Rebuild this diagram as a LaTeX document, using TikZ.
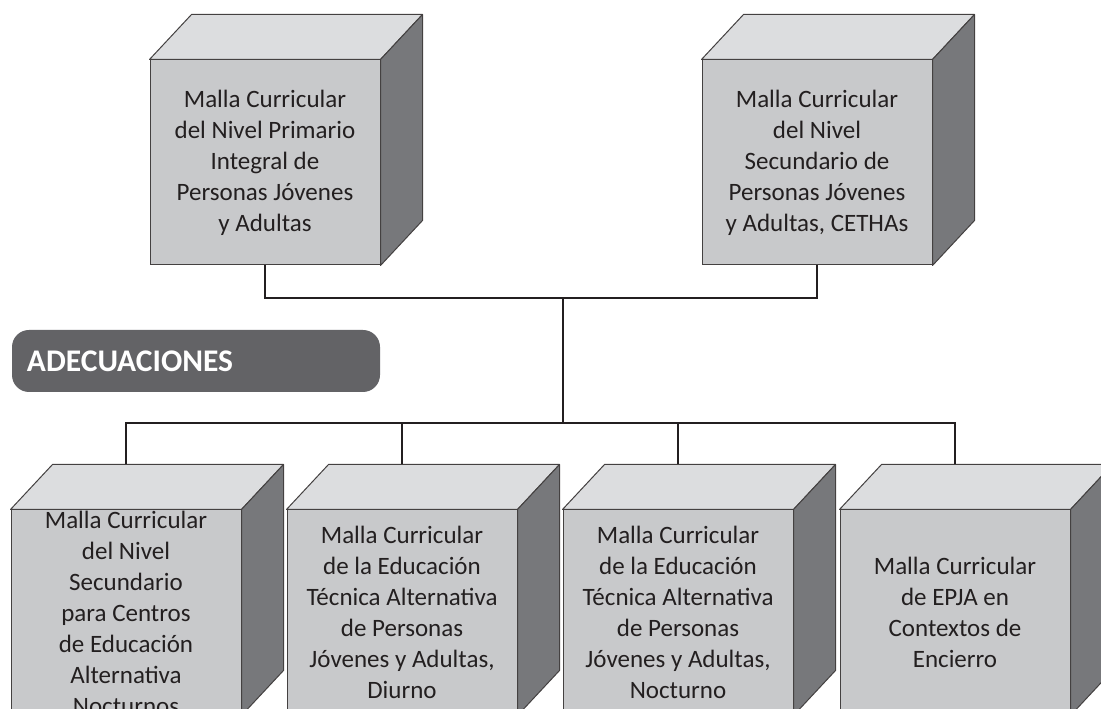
\documentclass[tikz,border=0pt]{standalone}
\usepackage{fontspec}
\setmainfont{Carlito}
\usepackage{tikz}
\usetikzlibrary{calc}

\definecolor{frente}{HTML}{C8C9CB}
\definecolor{tapa}{HTML}{DCDDDF}
\definecolor{lado}{HTML}{77787B}
\definecolor{banda}{HTML}{636366}
\definecolor{tinta}{HTML}{231F20}

\tikzset{
  cubo/.style={draw=tinta!85, line width=1pt, fill=frente,
    minimum width=230pt, minimum height=205pt, inner sep=2pt,
    text=tinta, align=center, font=\fontsize{25}{31}\selectfont},
  cara/.style={draw=tinta!85, line width=1pt, line join=round},
  rotulo/.style={fill=banda, rounded corners=17pt, minimum width=368pt,
    minimum height=62pt, text width=338pt, inner xsep=15pt, align=left,
    text=white, font=\bfseries\fontsize{31.5}{36}\selectfont},
  linea/.style={draw=tinta, line width=1.6pt}
}

\begin{document}
\begin{tikzpicture}[x=1pt,y=1pt]
  \clip (0,0) rectangle (1101,709);

  % mallas base
  \node[cubo] (t1) at (265,546.5) {Malla Curricular\\del Nivel Primario\\Integral de\\Personas Jóvenes\\y Adultas};
  \node[cubo] (t2) at (817,546.5) {Malla Curricular\\del Nivel\\Secundario de\\Personas Jóvenes\\y Adultas, CETHAs};

  % adecuaciones
  \node[cubo, inner ysep=-8pt] (b1) at (126,96.5) {Malla Curricular\\del Nivel\\Secundario\\para Centros\\de Educación\\Alternativa\\Nocturnos};
  \node[cubo] (b2) at (402,96.5) {Malla Curricular\\de la Educación\\Técnica Alternativa\\de Personas\\Jóvenes y Adultas,\\Diurno};
  \node[cubo] (b3) at (678,96.5) {Malla Curricular\\de la Educación\\Técnica Alternativa\\de Personas\\Jóvenes y Adultas,\\Nocturno};
  \node[cubo] (b4) at (955,96.5) {Malla Curricular\\de EPJA en\\Contextos de\\Encierro};

  % caras de los cubos
  \foreach \n in {t1,t2,b1,b2,b3,b4}{
    \filldraw[cara, fill=tapa] (\n.north west) -- ($(\n.north west)+(42,45)$)
      -- ($(\n.north east)+(42,45)$) -- (\n.north east) -- cycle;
    \filldraw[cara, fill=lado] (\n.north east) -- ($(\n.north east)+(42,45)$)
      -- ($(\n.south east)+(42,45)$) -- (\n.south east) -- cycle;
    \coordinate (\n-tapa) at ($(\n.north)+(0,45)$);
  }

  \node[rotulo] (adec) at (196,348) {ADECUACIONES};

  % conectores
  \coordinate (junta) at (563,411);
  \coordinate (reparto) at (563,286);
  \draw[linea] (t1.south) |- (junta) -| (t2.south);
  \draw[linea] (junta) -- (reparto);
  \foreach \n in {b1,b2,b3,b4}
    \draw[linea] (reparto) -| (\n-tapa);
\end{tikzpicture}
\end{document}
